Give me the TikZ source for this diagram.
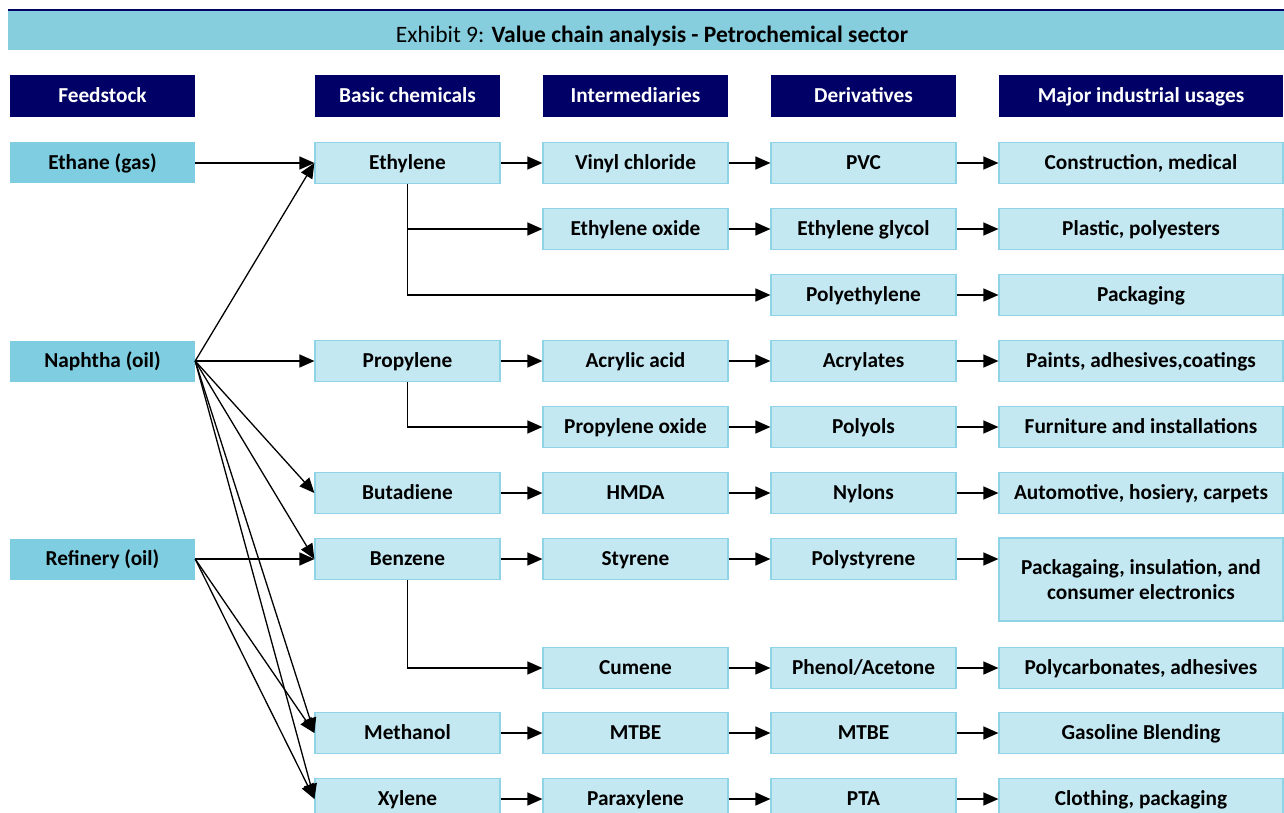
\documentclass[tikz,border=0pt]{standalone}
\usepackage{fontspec}
\setmainfont{Carlito}
\usetikzlibrary{arrows.meta,positioning}
\definecolor{vcnavy}{HTML}{000066}
\definecolor{vcteal}{HTML}{86CEDD}
\definecolor{vcfeed}{HTML}{7FCDE0}
\definecolor{vcbox}{HTML}{C4E8F2}
\definecolor{vcedge}{HTML}{8FD3E6}

\begin{document}
\begin{tikzpicture}[x=1pt, y=-1pt,
    lbl/.style={font=\bfseries\fontsize{21.3}{25}\selectfont, inner sep=0pt,
      text height=16pt, text depth=2.3pt},
    head/.style={lbl, fill=vcnavy, text=white, minimum width=185pt, minimum height=42pt},
    feed/.style={lbl, fill=vcfeed, minimum width=185pt, minimum height=41pt},
    chem/.style={lbl, fill=vcbox, draw=vcedge, line width=1.2pt, minimum width=185pt, minimum height=41pt},
    usage/.style={chem, minimum width=284pt},
    flow/.style={-{Triangle[length=15pt, width=13pt]}, line width=1.3pt}]
  \clip (0,0) rectangle (1284,813);
  \useasboundingbox (0,0) rectangle (1284,813);
  % title bar
  \fill[vcteal] (8,11.5) rectangle (1284,50.5);
  \fill[vcnavy] (8,9) rectangle (1284,11.5);
  \node[font=\fontsize{23.5}{28}\selectfont, inner sep=0pt, text height=18pt, text depth=2.5pt] (title) at (652,35)
    {Exhibit 9: \textbf{Value chain analysis - Petrochemical sector}};
  % column headers
  \node[head] (hfeed) at (102.5,96) {Feedstock};
  \node[head] (hbasic) at (407.5,96) {Basic chemicals};
  \node[head] (hinter) at (635.5,96) {Intermediaries};
  \node[head] (hderiv) at (863.5,96) {Derivatives};
  \node[head, minimum width=284pt] (husage) at (1141,96) {Major industrial usages};
  % feedstock
  \node[feed] (ethane) at (102.5,163) {Ethane (gas)};
  \node[feed] (naphtha) at (102.5,361) {Naphtha (oil)};
  \node[feed] (refinery) at (102.5,559) {Refinery (oil)};
  % basic chemicals
  \node[chem] (ethylene) at (407.5,163) {Ethylene};
  \node[chem] (propylene) at (407.5,361) {Propylene};
  \node[chem] (butadiene) at (407.5,493) {Butadiene};
  \node[chem] (benzene) at (407.5,559) {Benzene};
  \node[chem] (methanol) at (407.5,733) {Methanol};
  \node[chem] (xylene) at (407.5,799) {Xylene};
  % intermediaries
  \node[chem] (vinyl) at (635.5,163) {Vinyl chloride};
  \node[chem] (eoxide) at (635.5,229) {Ethylene oxide};
  \node[chem] (acrylic) at (635.5,361) {Acrylic acid};
  \node[chem] (poxide) at (635.5,427) {Propylene oxide};
  \node[chem] (hmda) at (635.5,493) {HMDA};
  \node[chem] (styrene) at (635.5,559) {Styrene};
  \node[chem] (cumene) at (635.5,668) {Cumene};
  \node[chem] (mtbe) at (635.5,733) {MTBE};
  \node[chem] (paraxylene) at (635.5,799) {Paraxylene};
  % derivatives
  \node[chem] (pvc) at (863.5,163) {PVC};
  \node[chem] (eglycol) at (863.5,229) {Ethylene glycol};
  \node[chem] (polyeth) at (863.5,295) {Polyethylene};
  \node[chem] (acrylates) at (863.5,361) {Acrylates};
  \node[chem] (polyols) at (863.5,427) {Polyols};
  \node[chem] (nylons) at (863.5,493) {Nylons};
  \node[chem] (polystyr) at (863.5,559) {Polystyrene};
  \node[chem] (phenol) at (863.5,668) {Phenol/Acetone};
  \node[chem] (mtbeb) at (863.5,733) {MTBE};
  \node[chem] (pta) at (863.5,799) {PTA};
  % major industrial usages
  \node[usage] (construct) at (1141,163) {Construction, medical};
  \node[usage] (plastic) at (1141,229) {Plastic, polyesters};
  \node[usage] (packaging) at (1141,295) {Packaging};
  \node[usage] (paints) at (1141,361) {Paints, adhesives,coatings};
  \node[usage] (furniture) at (1141,427) {Furniture and installations};
  \node[usage] (auto) at (1141,493) {Automotive, hosiery, carpets};
  \node[usage, minimum height=83pt, align=center, text height=, text depth=] (insul) at (1141,579.5)
    {Packagaing, insulation, and\\consumer electronics};
  \node[usage] (polycarb) at (1141,668) {Polycarbonates, adhesives};
  \node[usage] (gasoline) at (1141,733) {Gasoline Blending};
  \node[usage] (clothing) at (1141,799) {Clothing, packaging};
  % feedstock to basic chemicals
  \draw[flow] (ethane.east) -- (ethylene.west);
  \foreach \dst in {ethylene,propylene,butadiene,benzene,methanol,xylene}
    \draw[flow] (naphtha.east) -- (\dst.west);
  \foreach \dst in {benzene,methanol,xylene}
    \draw[flow] (refinery.east) -- (\dst.west);
  % branches
  \draw[flow] (ethylene.south) |- (eoxide.west);
  \draw[flow] (ethylene.south) |- (polyeth.west);
  \draw[flow] (propylene.south) |- (poxide.west);
  \draw[flow] (benzene.south) |- (cumene.west);
  % chains along the rows
  \foreach \a/\b in {ethylene/vinyl, vinyl/pvc, pvc/construct,
      eoxide/eglycol, eglycol/plastic, polyeth/packaging,
      propylene/acrylic, acrylic/acrylates, acrylates/paints,
      poxide/polyols, polyols/furniture,
      butadiene/hmda, hmda/nylons, nylons/auto,
      benzene/styrene, styrene/polystyr,
      cumene/phenol, phenol/polycarb,
      methanol/mtbe, mtbe/mtbeb, mtbeb/gasoline,
      xylene/paraxylene, paraxylene/pta, pta/clothing}
    \draw[flow] (\a.east) -- (\b.west);
  \draw[flow] (polystyr.east) -- (polystyr.east -| insul.west);
\end{tikzpicture}
\end{document}
